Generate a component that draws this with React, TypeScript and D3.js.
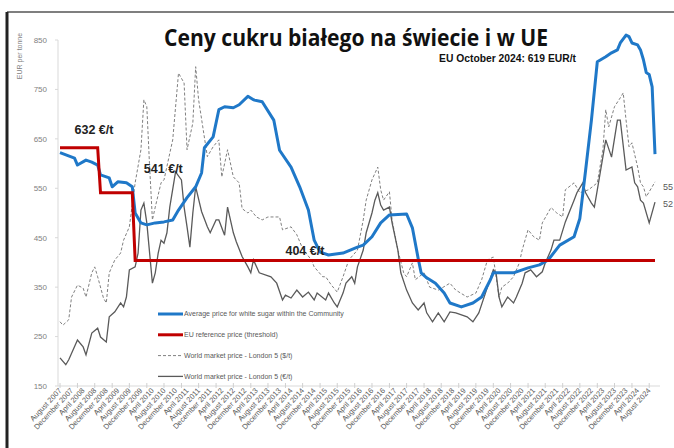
import React from "react";
import * as d3 from "d3";

// [months since August 2007, value]
const avgEuPrice: [number, number][] = [
  [0, 622], [5, 611], [6, 597], [9, 607], [11, 603], [13, 597], [14, 577], [17, 571],
  [18, 553], [20, 563], [23, 561], [25, 553], [26, 500], [28, 480], [30, 476], [33, 480],
  [36, 482], [39, 486], [41, 506], [44, 531], [47, 553], [49, 581], [50, 632], [53, 654],
  [55, 709], [57, 715], [60, 713], [62, 719], [65, 736], [67, 729], [70, 725], [74, 688],
  [76, 627], [80, 593], [83, 553], [86, 506], [88, 445], [90, 421], [93, 415], [98, 419],
  [103, 431], [105, 435], [108, 452], [111, 480], [114, 496], [120, 498], [122, 470],
  [124, 408], [125, 379], [127, 369], [130, 358], [133, 338], [135, 318], [139, 310],
  [143, 318], [146, 330], [149, 365], [150, 379], [157, 379], [162, 389], [166, 395],
  [169, 405], [173, 435], [178, 452], [180, 489], [182, 587], [184, 688], [186, 806],
  [189, 816], [191, 824], [193, 830], [194, 844], [196, 860], [197, 857], [198, 844],
  [200, 840], [201, 830], [202, 810], [203, 784], [204, 780], [205, 755], [206, 619],
];

const refPrice: [number, number][] = [
  [0, 632], [13, 632], [14, 541], [25, 541], [26, 404], [206, 404],
];

const worldUsd: [number, number][] = [
  [0, 280], [1, 273], [3, 284], [4, 330], [6, 354], [8, 348], [9, 330], [11, 379], [12, 391],
  [13, 371], [15, 328], [16, 318], [17, 379], [19, 405], [21, 419], [22, 445], [24, 472],
  [26, 561], [28, 628], [29, 729], [30, 715], [31, 600], [32, 486], [33, 512], [35, 561],
  [36, 567], [39, 648], [41, 783], [43, 763], [44, 628], [46, 682], [47, 796], [48, 729],
  [51, 614], [53, 634], [55, 648], [56, 573], [58, 628], [60, 573], [62, 561], [63, 509],
  [65, 500], [66, 506], [68, 492], [70, 486], [72, 492], [74, 492], [76, 492], [77, 466],
  [80, 472], [82, 456], [84, 428], [87, 405], [88, 391], [91, 371], [92, 371], [94, 354],
  [96, 340], [98, 371], [100, 405], [103, 425], [105, 486], [106, 526], [108, 567],
  [110, 593], [111, 547], [112, 526], [114, 543], [115, 486], [117, 425], [119, 379],
  [120, 371], [122, 399], [123, 365], [126, 379], [128, 350], [131, 344], [135, 358],
  [137, 344], [141, 330], [144, 338], [146, 365], [148, 405], [150, 411], [152, 330],
  [153, 350], [155, 358], [157, 371], [159, 399], [160, 425], [162, 466], [164, 452],
  [166, 445], [167, 480], [170, 511], [172, 500], [174, 492], [175, 547], [178, 561],
  [180, 541], [183, 547], [186, 561], [188, 628], [189, 709], [190, 674], [192, 715],
  [194, 733], [195, 743], [196, 688], [197, 634], [198, 642], [200, 593], [201, 561],
  [202, 553], [203, 533], [205, 553], [206, 563],
];

const worldEur: [number, number][] = [
  [0, 207], [2, 193], [3, 203], [6, 243], [8, 229], [9, 213], [11, 257], [13, 267], [14, 249],
  [16, 239], [17, 290], [19, 300], [21, 318], [22, 310], [23, 330], [24, 385], [26, 391],
  [27, 419], [28, 506], [29, 520], [30, 480], [32, 358], [33, 379], [34, 419], [35, 445],
  [36, 439], [37, 460], [38, 512], [40, 583], [42, 567], [43, 512], [44, 472], [45, 431],
  [46, 500], [47, 553], [49, 503], [51, 472], [52, 460], [54, 486], [55, 486], [57, 455],
  [58, 512], [60, 460], [61, 442], [63, 412], [65, 391], [66, 379], [67, 405], [69, 379],
  [73, 371], [75, 358], [77, 324], [78, 334], [80, 328], [82, 344], [84, 330], [86, 340],
  [88, 324], [89, 338], [92, 324], [93, 338], [95, 318], [96, 310], [98, 338], [99, 358],
  [101, 371], [102, 358], [103, 391], [105, 425], [106, 460], [108, 500], [109, 526],
  [110, 541], [111, 516], [112, 506], [114, 512], [115, 480], [117, 425], [118, 379],
  [120, 344], [122, 318], [124, 304], [126, 318], [127, 298], [129, 280], [131, 298],
  [133, 280], [135, 300], [137, 298], [141, 290], [143, 280], [145, 298], [148, 350],
  [150, 385], [151, 379], [152, 330], [153, 310], [155, 330], [157, 318], [158, 330],
  [160, 358], [161, 379], [163, 385], [165, 371], [167, 381], [168, 399], [170, 425],
  [171, 445], [173, 445], [175, 482], [178, 526], [179, 541], [181, 561], [182, 541],
  [184, 520], [185, 512], [186, 547], [189, 648], [191, 613], [193, 688], [194, 688],
  [196, 587], [198, 593], [199, 561], [200, 553], [201, 526], [202, 520], [204, 480],
  [206, 522],
];

const yTicks = [150, 250, 350, 450, 550, 650, 750, 850];
// step labels: month where the label sits, price level, text
const priceLabels = [
  { m: 5, v: 632, text: "632 €/t" },
  { m: 29, v: 541, text: "541 €/t" },
  { m: 78, v: 404, text: "404 €/t" },
];
const legendItems = [
  { text: "Average price for white sugar within the Community", color: "#1f78c8", w: 3, dash: "" },
  { text: "EU reference price (threshold)", color: "#c00000", w: 3, dash: "" },
  { text: "World market price - London 5 ($/t)", color: "#808080", w: 1, dash: "3,2" },
  { text: "World market price - London 5 (€/t)", color: "#5a5a5a", w: 1.3, dash: "" },
];

const start = new Date(2007, 7, 1);
const end = new Date(2024, 9, 1);
const toDate = (m: number) => d3.timeMonth.offset(start, m);

export default function App() {
  const width = 674;
  const height = 448;
  const x = d3.scaleTime().domain([start, end]).range([60, 655]);
  const y = d3.scaleLinear().domain([150, 850]).range([386, 40]);
  const line = d3
    .line<[number, number]>()
    .x((d) => x(toDate(d[0])))
    .y((d) => y(d[1]));

  const labelMonths = d3.range(0, 205, 4);
  const tickMonths = d3.range(0, 207, 6);
  const fmt = d3.timeFormat("%B %Y");
  const font = "'Liberation Sans', Arial, sans-serif";

  return (
    <svg
      width={width}
      height={height}
      style={{ position: "absolute", left: 0, top: 0, background: "#fff" }}
      fontFamily={font}
    >
      {/* frame */}
      <line x1={7} x2={674} y1={12} y2={12} stroke="#555" strokeWidth={1.5} />
      <line x1={7} x2={7} y1={12} y2={448} stroke="#222" strokeWidth={3} />

      {/* y axis */}
      <line x1={58} x2={58} y1={y(850)} y2={y(150)} stroke="#d9d9d9" />
      {yTicks.map((t) => (
        <g key={t}>
          <line x1={55} x2={58} y1={y(t)} y2={y(t)} stroke="#d9d9d9" />
          <text x={47} y={y(t)} dy="0.35em" textAnchor="end" fontSize={8} fill="#7f7f7f">
            {t}
          </text>
        </g>
      ))}
      <text
        transform="translate(22,56) rotate(-90)"
        textAnchor="middle"
        fontSize={7}
        fill="#7f7f7f"
      >
        EUR per tonne
      </text>

      {/* x axis */}
      <line x1={58} x2={660} y1={386} y2={386} stroke="#d9d9d9" />
      {tickMonths.map((m) => (
        <line key={m} x1={x(toDate(m))} x2={x(toDate(m))} y1={383} y2={388} stroke="#d0d0d0" />
      ))}
      {labelMonths.map((m) => (
        <text
          key={m}
          transform={`translate(${x(toDate(m)) + 2},${391}) rotate(-47)`}
          textAnchor="end"
          fontSize={7.5}
          fill="#595959"
        >
          {fmt(toDate(m))}
        </text>
      ))}

      {/* series */}
      <path d={line(worldUsd) ?? ""} fill="none" stroke="#808080" strokeWidth={1} strokeDasharray="3,2" />
      <path d={line(worldEur) ?? ""} fill="none" stroke="#5a5a5a" strokeWidth={1.3} />
      <path d={line(avgEuPrice) ?? ""} fill="none" stroke="#1f78c8" strokeWidth={3} strokeLinejoin="round" />
      <path d={line(refPrice) ?? ""} fill="none" stroke="#c00000" strokeWidth={3} />

      {/* price step labels */}
      {priceLabels.map((p, i) => (
        <text
          key={i}
          x={x(toDate(p.m))}
          y={y(p.v) - [14, 20, 5][i]}
          fontSize={12.5}
          fontWeight="bold"
          fill="#222"
        >
          {p.text}
        </text>
      ))}

      {/* right edge labels (cut off) */}
      <text x={663} y={190} fontSize={9} fill="#595959">55</text>
      <text x={663} y={207} fontSize={9} fill="#595959">52</text>

      {/* legend */}
      {legendItems.map((l, i) => (
        <g key={i} transform={`translate(158,${314 + i * 20.8})`}>
          <line x1={0} x2={25} y1={0} y2={0} stroke={l.color} strokeWidth={l.w} strokeDasharray={l.dash || undefined} />
          <text x={26} y={0} dy="0.35em" fontSize={7} fill="#595959">
            {l.text}
          </text>
        </g>
      ))}

      {/* titles */}
      <text
        x={164}
        y={46}
        fontSize={24}
        fontWeight="bold"
        fontFamily="'Open Sans', 'Liberation Sans', sans-serif"
        fill="#111"
        textLength={384}
        lengthAdjust="spacingAndGlyphs"
      >
        Ceny cukru białego na świecie i w UE
      </text>
      <text
        x={576}
        y={62}
        textAnchor="end"
        fontSize={11}
        fontWeight="bold"
        fill="#111"
        textLength={137}
        lengthAdjust="spacingAndGlyphs"
      >
        EU October 2024: 619 EUR/t
      </text>
    </svg>
  );
}
